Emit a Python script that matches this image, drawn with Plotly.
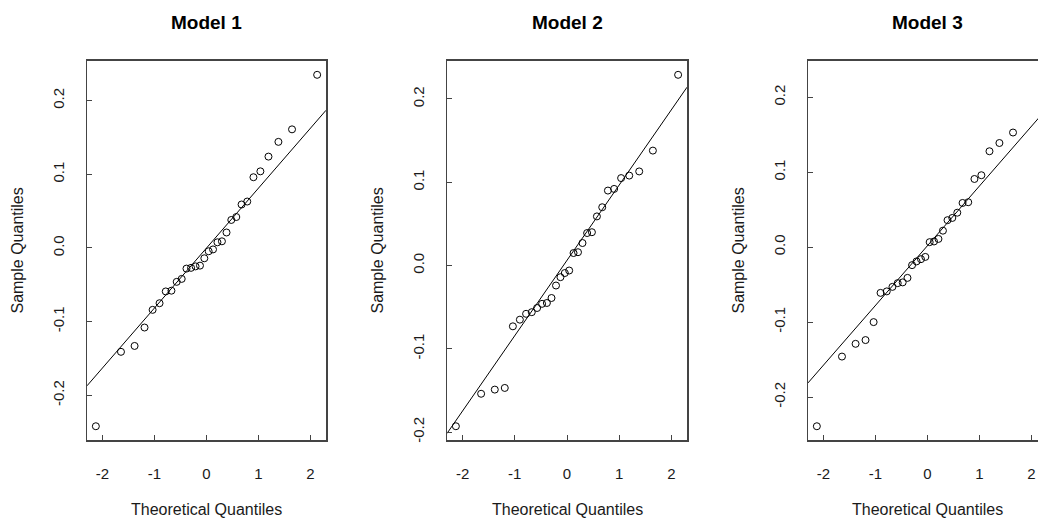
import numpy as np
import plotly.graph_objects as go
from statistics import NormalDist

# ---- data (sorted sample quantiles) ----
model1 = [-0.242, -0.141, -0.133, -0.108, -0.084, -0.075, -0.059, -0.058, -0.046, -0.042,
          -0.028, -0.027, -0.025, -0.024, -0.014, -0.0045, -0.002, 0.0077, 0.009, 0.021,
          0.038, 0.042, 0.059, 0.063, 0.096, 0.104, 0.124, 0.144, 0.161, 0.235]
model2 = [-0.193, -0.154, -0.149, -0.147, -0.073, -0.065, -0.058, -0.056, -0.051, -0.046,
          -0.045, -0.039, -0.024, -0.014, -0.009, -0.006, 0.015, 0.016, 0.027, 0.039,
          0.040, 0.059, 0.070, 0.090, 0.092, 0.105, 0.108, 0.113, 0.138, 0.229]
model3 = [-0.239, -0.146, -0.129, -0.124, -0.100, -0.061, -0.059, -0.053, -0.048, -0.047,
          -0.041, -0.024, -0.019, -0.016, -0.013, 0.0067, 0.0076, 0.011, 0.022, 0.036,
          0.039, 0.046, 0.059, 0.060, 0.091, 0.096, 0.128, 0.139, 0.153, 0.230]
titles = ["Model 1", "Model 2", "Model 3"]
x_tickvals = [-2, -1, 0, 1, 2]
y_tickvals = [-0.2, -0.1, 0.0, 0.1, 0.2]
y_ticktext = ["-0.2", "-0.1", "0.0", "0.1", "0.2"]
x_title = "Theoretical Quantiles"
y_title = "Sample Quantiles"

# ---- layout geometry (page pixels) ----
W, H = 1038, 522
panels_px = [(87, 326), (447, 687), (808, 1047)]
top_px, bot_px = 61, 442
FONT = "Liberation Sans, Arial, sans-serif"
LINE_C = "#444444"
TXT_C = "#1a1a1a"

def fx(px):
    return px / W

def fy(py):
    return 1 - py / H

nd = NormalDist()
series = [model1, model2, model3]

fig = go.Figure()
annotations = []
for i, (vals, (x0p, x1p)) in enumerate(zip(series, panels_px)):
    n = len(vals)
    y = np.sort(np.array(vals))
    x = np.array([nd.inv_cdf((k + 0.5) / n) for k in range(n)])
    # R-like 4% axis extension
    xlo, xhi = x.min(), x.max()
    xlo, xhi = xlo - 0.04 * (xhi - xlo), xhi + 0.04 * (xhi - xlo)
    ylo, yhi = y.min(), y.max()
    ylo, yhi = ylo - 0.04 * (yhi - ylo), yhi + 0.04 * (yhi - ylo)
    # qqline through quartiles
    q1, q3 = np.quantile(y, [0.25, 0.75])
    t1, t3 = nd.inv_cdf(0.25), nd.inv_cdf(0.75)
    slope = (q3 - q1) / (t3 - t1)
    icpt = q1 - slope * t1

    # the last panel runs past the right edge of the picture
    vis1 = min(x1p, W)
    xr_hi = xlo + (xhi - xlo) * (vis1 - x0p) / (x1p - x0p)
    clipped = x1p > W

    ax = "" if i == 0 else str(i + 1)
    fig.add_trace(go.Scatter(
        x=[xlo, xhi], y=[icpt + slope * xlo, icpt + slope * xhi],
        mode="lines", line=dict(color="black", width=1),
        xaxis="x" + ax, yaxis="y" + ax, showlegend=False, hoverinfo="skip"))
    fig.add_trace(go.Scatter(
        x=x, y=y, mode="markers",
        marker=dict(symbol="circle-open", size=7, color="black",
                    line=dict(width=1, color="black")),
        xaxis="x" + ax, yaxis="y" + ax, showlegend=False, cliponaxis=False))

    fig.layout["xaxis" + ax] = dict(
        domain=[fx(x0p), fx(vis1)], range=[xlo, xr_hi], anchor="y" + ax,
        tickvals=x_tickvals, ticktext=[str(v) for v in x_tickvals],
        showgrid=False, zeroline=False, showline=True, mirror=True,
        linecolor=LINE_C, linewidth=1.5, ticks="inside", ticklen=5,
        tickcolor=LINE_C, tickwidth=1, ticklabelstandoff=19,
        tickfont=dict(family=FONT, size=15, color=TXT_C))
    fig.layout["yaxis" + ax] = dict(
        domain=[fy(bot_px), fy(top_px)], range=[ylo, yhi], anchor="x" + ax,
        tickvals=y_tickvals, ticktext=y_ticktext, tickangle=-90,
        showgrid=False, zeroline=False, showline=True, mirror=not clipped,
        linecolor=LINE_C, linewidth=1.5, ticks="inside", ticklen=5,
        tickcolor=LINE_C, tickwidth=1, ticklabelstandoff=16,
        tickfont=dict(family=FONT, size=15, color=TXT_C))

    cx = fx((x0p + x1p) / 2)
    annotations.append(dict(text="<b>" + titles[i] + "</b>", x=cx, y=fy(23),
                            xref="paper", yref="paper", showarrow=False,
                            xanchor="center", yanchor="middle",
                            font=dict(family=FONT, size=19, color="black")))
    annotations.append(dict(text=x_title, x=cx, y=fy(511),
                            xref="paper", yref="paper", showarrow=False,
                            xanchor="center", yanchor="middle",
                            font=dict(family=FONT, size=16, color=TXT_C)))
    annotations.append(dict(text=y_title, x=fx(x0p - 69), y=fy((top_px + bot_px) / 2),
                            xref="paper", yref="paper", showarrow=False, textangle=-90,
                            xanchor="center", yanchor="middle",
                            font=dict(family=FONT, size=16, color=TXT_C)))

fig.update_layout(width=W, height=H, margin=dict(l=0, r=0, t=0, b=0),
                  paper_bgcolor="white", plot_bgcolor="white",
                  hovermode=False, annotations=annotations)
fig.write_html(
    "out.html",
    config={"displayModeBar": False, "staticPlot": True},
    post_script=("document.body.style.margin='0';"
                 "document.body.style.overflow='hidden';"
                 "document.documentElement.style.overflow='hidden';"))
